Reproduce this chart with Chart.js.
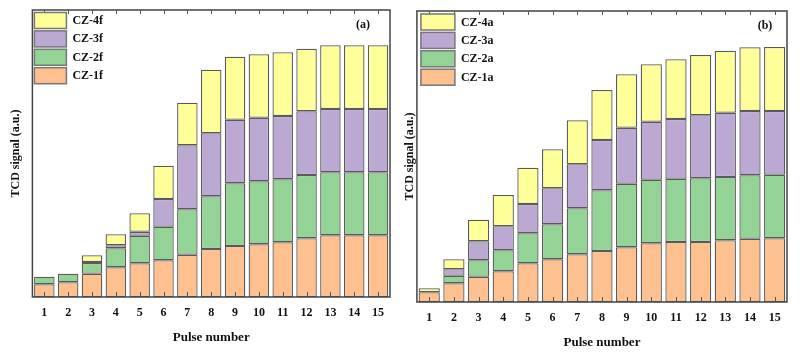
<!DOCTYPE html>
<html>
<head>
<meta charset="utf-8">
<script src="https://cdn.jsdelivr.net/npm/chart.js@4.4.0/dist/chart.umd.min.js"></script>
<style>
  body { margin: 0; background: #fff; }
  .box { position: absolute; top: 0; width: 400px; height: 353px; }
</style>
</head>
<body>
<div class="box" style="left:0"><canvas id="chartA"></canvas></div>
<div class="box" style="left:400px"><canvas id="chartB"></canvas></div>
<script>
const pulses = ['1','2','3','4','5','6','7','8','9','10','11','12','13','14','15'];

// panel (a) - segment heights, bottom to top
const cz1f = [12.7, 14.7, 23.3, 29.7, 33.7, 36.7, 42.3, 48, 51, 52.7, 54.7, 58.7, 61.7, 61.7, 61.7];
const cz2f = [7.6, 8.6, 10.7, 19, 27.6, 33.6, 45.4, 52.7, 62.7, 63, 63, 63.3, 63, 63, 63];
const cz3f = [0, 0, 1, 3, 4, 27.7, 64, 63, 63.6, 63.6, 63.3, 63.7, 63.3, 63.3, 63.3];
const cz4f = [0, 0, 6.7, 11, 18.4, 33.3, 42.6, 63.6, 63, 63.4, 63.7, 62.6, 63.7, 63.7, 63.7];

// panel (b)
const cz1a = [9.7, 18.7, 25.3, 30.7, 38.7, 42.7, 47.7, 51, 54.7, 58.7, 60, 60, 61.7, 63.3, 63.7];
const cz2a = [0, 7.6, 16.4, 21, 30, 35, 46, 60.7, 63.6, 63.6, 63.3, 63.7, 63.3, 63.4, 63.6];
const cz3a = [0, 6.4, 19, 24, 29.3, 36, 44, 50.3, 56, 58, 59.7, 63, 64.3, 64.3, 63.7];
const cz4a = [4, 10, 21.6, 31.3, 36.3, 39, 44, 50, 53.4, 57.4, 59.7, 60.3, 62, 63.7, 64];

const colors = ['#fdc08e', '#93d396', '#bba9d4', '#ffff9a'];
const serif = '"Liberation Serif", "Times New Roman", serif';

// frame, inward ticks, legend inside plot and panel tag
const framePlugin = {
  id: 'frame',
  afterDraw(chart, args, opts) {
    const { ctx, chartArea: a, scales } = chart;
    ctx.save();
    ctx.strokeStyle = '#444';
    ctx.lineWidth = 1.5;
    ctx.strokeRect(a.left, a.top, a.right - a.left, a.bottom - a.top);
    ctx.lineWidth = 1;
    ctx.strokeStyle = '#555';
    scales.x.ticks.forEach((t, i) => {
      const x = Math.round(scales.x.getPixelForTick(i)) + 0.5;
      ctx.beginPath();
      ctx.moveTo(x, a.bottom); ctx.lineTo(x, a.bottom - 5);
      ctx.moveTo(x, a.top); ctx.lineTo(x, a.top + 4);
      ctx.stroke();
    });
    // legend
    const ds = chart.data.datasets.slice().reverse();
    ctx.font = 'bold 12px ' + serif;
    ctx.textBaseline = 'middle';
    ds.forEach((d, i) => {
      const y = a.top + opts.dy + i * 18.4;
      ctx.fillStyle = d.backgroundColor;
      ctx.fillRect(a.left + opts.dx, y, opts.bw, 16);
      ctx.strokeStyle = '#777';
      ctx.lineWidth = 1.5;
      ctx.strokeRect(a.left + opts.dx, y, opts.bw, 16);
      ctx.fillStyle = '#111';
      ctx.fillText(d.label, a.left + opts.dx + opts.bw + 6, y + 8.5);
    });
    ctx.textAlign = 'center';
    ctx.fillText(opts.tag, a.right - opts.tagX, a.top + 15);
    ctx.restore();
  }
};

function makeChart(id, names, series, yMax, pad, yGap, leg) {
  return new Chart(document.getElementById(id), {
    type: 'bar',
    data: {
      labels: pulses,
      datasets: series.map((s, i) => ({
        label: names[i],
        data: s,
        backgroundColor: colors[i],
        borderColor: '#5a5a5a',
        borderWidth: 1.3,
        borderSkipped: false,
        barPercentage: 0.86,
        categoryPercentage: 1
      }))
    },
    options: {
      responsive: true,
      maintainAspectRatio: false,
      animation: false,
      layout: { padding: pad },
      plugins: {
        legend: { display: false },
        tooltip: { enabled: false },
        frame: leg
      },
      scales: {
        x: {
          stacked: true,
          grid: { display: false, drawTicks: false },
          border: { display: false },
          ticks: { color: '#111', padding: 9, font: { family: serif, size: 12, weight: 'bold' } },
          title: {
            display: true, text: 'Pulse number', color: '#111',
            padding: { top: 0, bottom: 0 },
            font: { family: serif, size: 13, weight: 'bold' }
          }
        },
        y: {
          stacked: true,
          min: 0,
          max: yMax,
          grid: { display: false, drawTicks: false },
          border: { display: false },
          ticks: { display: false },
          title: {
            display: true, text: 'TCD signal (a.u.)', color: '#111',
            padding: { top: 0, bottom: yGap },
            font: { family: serif, size: 12, weight: 'bold' }
          }
        }
      }
    },
    plugins: [framePlugin]
  });
}

makeChart('chartA', ['CZ-1f', 'CZ-2f', 'CZ-3f', 'CZ-4f'], [cz1f, cz2f, cz3f, cz4f], 287,
  { left: 9, right: 10, top: 10, bottom: 8 }, 9,
  { dx: 2, dy: 2.5, bw: 32, tag: '(a)', tagX: 27 });
makeChart('chartB', ['CZ-1a', 'CZ-2a', 'CZ-3a', 'CZ-4a'], [cz1a, cz2a, cz3a, cz4a], 291,
  { left: 2.5, right: 13, top: 11, bottom: 3 }, 0,
  { dx: 4, dy: 3, bw: 34, tag: '(b)', tagX: 22 });
</script>
</body>
</html>
